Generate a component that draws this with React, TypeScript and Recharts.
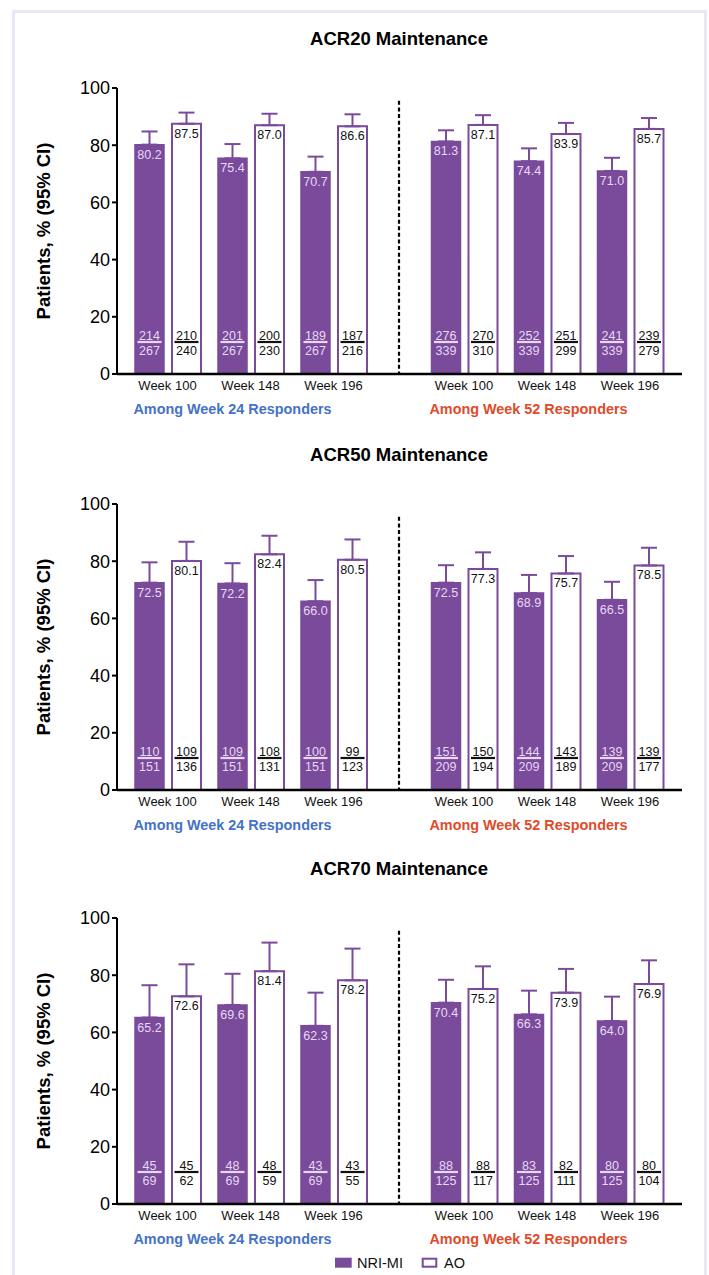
import React from "react";
import { BarChart, Bar, XAxis, YAxis, ErrorBar, LabelList } from "recharts";

// ---------- data ----------
const weeks = ["Week 100", "Week 148", "Week 196"];
const yTicks = [0, 20, 40, 60, 80, 100];
const panelTitles = ["ACR20 Maintenance", "ACR50 Maintenance", "ACR70 Maintenance"];
const groupTitles = ["Among Week 24 Responders", "Among Week 52 Responders"];
const seriesNames = ["NRI-MI", "AO"];
const yAxisTitle = "Patients, % (95% CI)";

// first three values: Week 24 responders, last three: Week 52 responders
const acr20Nri = [80.2, 75.4, 70.7, 81.3, 74.4, 71.0];
const acr20Ao = [87.5, 87.0, 86.6, 87.1, 83.9, 85.7];
const acr20NriUpper = [84.8, 80.4, 76.0, 85.2, 78.9, 75.6];
const acr20AoUpper = [91.4, 91.0, 90.8, 90.5, 87.8, 89.5];
const acr20NriNum = [214, 201, 189, 276, 252, 241];
const acr20NriDen = [267, 267, 267, 339, 339, 339];
const acr20AoNum = [210, 200, 187, 270, 251, 239];
const acr20AoDen = [240, 230, 216, 310, 299, 279];

const acr50Nri = [72.5, 72.2, 66.0, 72.5, 68.9, 66.5];
const acr50Ao = [80.1, 82.4, 80.5, 77.3, 75.7, 78.5];
const acr50NriUpper = [79.6, 79.3, 73.4, 78.6, 75.2, 72.8];
const acr50AoUpper = [86.8, 88.9, 87.6, 83.1, 81.8, 84.7];
const acr50NriNum = [110, 109, 100, 151, 144, 139];
const acr50NriDen = [151, 151, 151, 209, 209, 209];
const acr50AoNum = [109, 108, 99, 150, 143, 139];
const acr50AoDen = [136, 131, 123, 194, 189, 177];

const acr70Nri = [65.2, 69.6, 62.3, 70.4, 66.3, 64.0];
const acr70Ao = [72.6, 81.4, 78.2, 75.2, 73.9, 76.9];
const acr70NriUpper = [76.5, 80.5, 73.9, 78.4, 74.6, 72.5];
const acr70AoUpper = [83.8, 91.4, 89.3, 83.1, 82.2, 85.2];
const acr70NriNum = [45, 48, 43, 88, 83, 80];
const acr70NriDen = [69, 69, 69, 125, 125, 125];
const acr70AoNum = [45, 48, 43, 88, 82, 80];
const acr70AoDen = [62, 59, 55, 117, 111, 104];

// ---------- styles ----------
const PURPLE = "#7a4a9b";
const LIGHT = "#e6d9f4";
const BLUE = "#4472c4";
const RED = "#e04a2a";
const FONT = "'Liberation Sans', Arial, Helvetica, sans-serif";

const PANEL_TOPS = [87.5, 504, 917.5];
const PLOT_H = 286;
const MARGIN_TOP = 15;
const XAXIS_H = 50;
const CHART_H = MARGIN_TOP + PLOT_H + XAXIS_H;
const DASH_TOP = 95.5;

type Panel = {
  nri: number[]; ao: number[]; nriUp: number[]; aoUp: number[];
  nriNum: number[]; nriDen: number[]; aoNum: number[]; aoDen: number[];
};

const panels: Panel[] = [
  { nri: acr20Nri, ao: acr20Ao, nriUp: acr20NriUpper, aoUp: acr20AoUpper, nriNum: acr20NriNum, nriDen: acr20NriDen, aoNum: acr20AoNum, aoDen: acr20AoDen },
  { nri: acr50Nri, ao: acr50Ao, nriUp: acr50NriUpper, aoUp: acr50AoUpper, nriNum: acr50NriNum, nriDen: acr50NriDen, aoNum: acr50AoNum, aoDen: acr50AoDen },
  { nri: acr70Nri, ao: acr70Ao, nriUp: acr70NriUpper, aoUp: acr70AoUpper, nriNum: acr70NriNum, nriDen: acr70NriDen, aoNum: acr70AoNum, aoDen: acr70AoDen },
];

function buildRows(p: Panel, half: number) {
  const off = half * 3;
  return weeks.map((w, i) => {
    const k = off + i;
    return {
      week: w,
      nri: p.nri[k],
      ao: p.ao[k],
      nriErr: [0, +(p.nriUp[k] - p.nri[k]).toFixed(2)],
      aoErr: [0, +(p.aoUp[k] - p.ao[k]).toFixed(2)],
      nriFrac: `${p.nriNum[k]}/${p.nriDen[k]}`,
      aoFrac: `${p.aoNum[k]}/${p.aoDen[k]}`,
    };
  });
}

function getBox(props: any) {
  const vb = props.viewBox && props.viewBox.width !== undefined ? props.viewBox : props;
  return { x: Number(vb.x), y: Number(vb.y), w: Number(vb.width), h: Number(vb.height) };
}

const valueLabel = (color: string) => (props: any) => {
  const { x, y, w } = getBox(props);
  if (!isFinite(x)) return null;
  return (
    <text x={x + w / 2} y={y + 14} textAnchor="middle" fontSize={12.5} fill={color} fontFamily={FONT}>
      {Number(props.value).toFixed(1)}
    </text>
  );
};

const fractionLabel = (color: string, lineColor: string) => (props: any) => {
  const { x, y, w, h } = getBox(props);
  if (!isFinite(x)) return null;
  const [num, den] = String(props.value).split("/");
  const cx = x + w / 2;
  const lineY = y + h - 32;
  return (
    <g>
      <text x={cx} y={lineY - 2} textAnchor="middle" fontSize={12.5} fill={color} fontFamily={FONT}>{num}</text>
      <line x1={cx - 12} x2={cx + 12} y1={lineY} y2={lineY} stroke={lineColor} strokeWidth={2.2} />
      <text x={cx} y={lineY + 12.5} textAnchor="middle" fontSize={12.5} fill={color} fontFamily={FONT}>{den}</text>
    </g>
  );
};

const subtitleLabel = (text: string, color: string, dx: number) => (props: any) => {
  const { x, y, w } = getBox(props);
  return (
    <text x={x + w / 2 + dx} y={y + 40} textAnchor="middle" fontSize={14.4} fontWeight="bold" fill={color} fontFamily={FONT}>
      {text}
    </text>
  );
};

const yTitleLabel = (props: any) => {
  const { y, h } = getBox(props);
  const cy = y + h / 2;
  return (
    <text x={50} y={cy} transform={`rotate(-90, 50, ${cy})`} textAnchor="middle" fontSize={18.5} fontWeight="bold" fill="#000" fontFamily={FONT}>
      {yAxisTitle}
    </text>
  );
};

function Series() {
  return null;
}

function renderBars() {
  return [
    <Bar key="nri" dataKey="nri" name={seriesNames[0]} fill={PURPLE} stroke={PURPLE} strokeWidth={1.5} barSize={29} isAnimationActive={false}>
      <ErrorBar dataKey="nriErr" direction="y" width={8} stroke={PURPLE} strokeWidth={2} isAnimationActive={false} />
      <LabelList dataKey="nri" content={valueLabel(LIGHT)} />
      <LabelList dataKey="nriFrac" content={fractionLabel(LIGHT, LIGHT)} />
    </Bar>,
    <Bar key="ao" dataKey="ao" name={seriesNames[1]} fill="#ffffff" stroke={PURPLE} strokeWidth={2} barSize={29} isAnimationActive={false}>
      <ErrorBar dataKey="aoErr" direction="y" width={8} stroke={PURPLE} strokeWidth={2} isAnimationActive={false} />
      <LabelList dataKey="ao" content={valueLabel("#111")} />
      <LabelList dataKey="aoFrac" content={fractionLabel("#111", "#111")} />
    </Bar>,
  ];
}

function PanelCharts({ p, top }: { p: Panel; top: number }) {
  const leftRows = buildRows(p, 0);
  const rightRows = buildRows(p, 1);
  const rightExtraTop = PLOT_H * (1 - DASH_TOP / 100);
  return (
    <>
      <div style={{ position: "absolute", left: 0, top: top - MARGIN_TOP }}>
        <BarChart width={400} height={CHART_H} data={leftRows} barGap={8} margin={{ top: MARGIN_TOP, right: 1, left: 0, bottom: 0 }}>
          <XAxis
            dataKey="week"
            interval={0}
            tickLine={false}
            axisLine={{ stroke: "#000", strokeWidth: 2.5 }}
            tick={{ fontSize: 13, fill: "#111" }}
            tickMargin={1}
            height={XAXIS_H}
            padding={{ left: 9, right: 24 }}
            label={{ content: subtitleLabel(groupTitles[0], BLUE, -25.5) }}
          />
          <YAxis
            domain={[0, 100]}
            ticks={yTicks}
            interval={0}
            allowDataOverflow
            width={117}
            tickSize={5}
            tickLine={{ stroke: "#000", strokeWidth: 2 }}
            axisLine={{ stroke: "#000", strokeWidth: 2 }}
            tick={{ fontSize: 18, fill: "#000" }}
            label={{ content: yTitleLabel }}
          />
          {renderBars()}
        </BarChart>
      </div>
      <div style={{ position: "absolute", left: 389, top: top - MARGIN_TOP }}>
        <BarChart width={298} height={CHART_H} data={rightRows} barGap={8} margin={{ top: MARGIN_TOP + rightExtraTop, right: 5, left: 0, bottom: 0 }}>
          <XAxis
            dataKey="week"
            interval={0}
            tickLine={false}
            axisLine={{ stroke: "#000", strokeWidth: 2.5 }}
            tick={{ fontSize: 13, fill: "#111" }}
            tickMargin={1}
            height={XAXIS_H}
            padding={{ left: 23.5, right: 10.5 }}
            label={{ content: subtitleLabel(groupTitles[1], RED, -12) }}
          />
          <YAxis
            domain={[0, DASH_TOP]}
            allowDataOverflow
            width={10}
            tick={false}
            tickLine={false}
            axisLine={{ stroke: "#000", strokeWidth: 2.2, strokeDasharray: "4 2.6" }}
          />
          {renderBars()}
        </BarChart>
      </div>
    </>
  );
}

export default function App() {
  return (
    <div style={{ position: "absolute", left: 0, top: 0, width: 709, height: 1275, overflow: "hidden", background: "#fff", fontFamily: FONT }}>
      <div style={{ position: "absolute", left: 12, top: 10, width: 695, height: 1300, boxSizing: "border-box", border: "3px solid #e9e7f5" }} />
      {panels.map((p, i) => (
        <PanelCharts key={i} p={p} top={PANEL_TOPS[i]} />
      ))}
      <svg width={709} height={1275} style={{ position: "absolute", left: 0, top: 0, pointerEvents: "none" }}>
        {panelTitles.map((t, i) => (
          <text key={t} x={399} y={PANEL_TOPS[i] - 43} textAnchor="middle" fontSize={18.5} fontWeight="bold" fill="#000" fontFamily={FONT}>
            {t}
          </text>
        ))}
        <rect x={335} y={1257.7} width={16.7} height={10} fill={PURPLE} />
        <text x={357} y={1267.7} fontSize={14.5} fill="#111" fontFamily={FONT}>{seriesNames[0]}</text>
        <rect x={422.7} y={1258.7} width={13.6} height={8} fill="#fff" stroke={PURPLE} strokeWidth={2} />
        <text x={444} y={1267.7} fontSize={14.5} fill="#111" fontFamily={FONT}>{seriesNames[1]}</text>
      </svg>
    </div>
  );
}
